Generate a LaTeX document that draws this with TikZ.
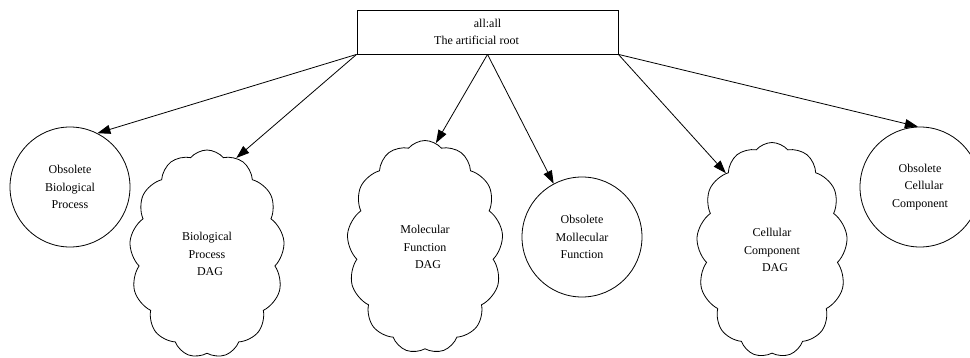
\documentclass[tikz,border=0pt]{standalone}
\usepackage{fontspec}
\setmainfont{Liberation Serif}
\usetikzlibrary{shapes.symbols,arrows.meta}
\begin{document}
\begin{tikzpicture}[x=1pt,y=-1pt,
  line width=0.8pt,
  every node/.style={font=\fontsize{12}{17.5}\selectfont, align=center},
  rootbox/.style={draw, rectangle, minimum width=261pt, minimum height=44pt, inner sep=0pt},
  obsolete/.style={draw, circle, minimum size=120pt, inner sep=0pt},
  dag/.style={draw, cloud, cloud ignores aspect, cloud puffs=13, cloud puff arc=100,
              inner sep=0pt},
  link/.style={-{Triangle[length=13pt,width=9pt]}}
]
\useasboundingbox (0,0) rectangle (970,358);

% artificial root
\node[rootbox] (root) at (487.5,32) {all:all\\The artificial root\hspace*{22pt}};

% obsolete term groups
\node[obsolete] (obp) at (70,187) {Obsolete\\Biological\\Process};
\node[obsolete] (omf) at (582,237) {Obsolete\\Mollecular\\Function};
\node[obsolete] (occ) at (920,187) {Obsolete\\\hspace*{8pt}Cellular\\Component};

% ontology DAGs
\node[dag, minimum width=155pt, minimum height=208pt] (bp) at (207,254) {Biological\\Process\\\hspace*{6pt}DAG};
\node[dag, minimum width=156pt, minimum height=213pt] (mf) at (425,247) {Molecular\\Function\\\hspace*{6pt}DAG};
\node[dag, minimum width=151pt, minimum height=215pt] (cc) at (772,250) {Cellular\\Component\\\hspace*{6pt}DAG};

% edges from the root
\draw[link] (root.south west) -- (obp.63);
\draw[link] (root.south west) -- (bp.73);
\draw[link] (root.south) -- (mf.84);
\draw[link] (root.south) -- (omf.118);
\draw[link] (root.south east) -- (cc.121);
\draw[link] (root.south east) -- (occ.92);
\end{tikzpicture}
\end{document}
